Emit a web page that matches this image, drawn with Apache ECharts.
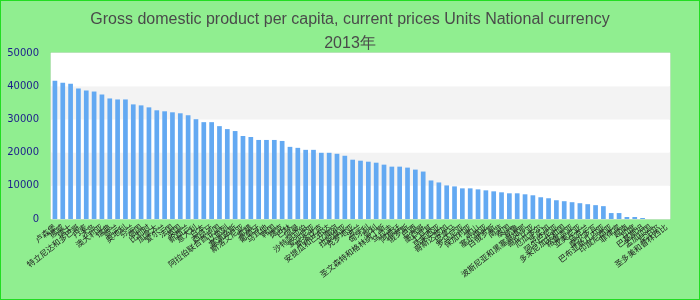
<!DOCTYPE html>
<html>
<head>
<meta charset="utf-8">
<script src="https://cdn.jsdelivr.net/npm/echarts@6/dist/echarts.min.js"></script>
<style>
html,body{margin:0;padding:0;background:#90EE90;}
#main{width:700px;height:300px;box-sizing:border-box;border:1px solid #22dd22;}
</style>
</head>
<body>
<div id="main"></div>
<script>
var titleText = 'Gross domestic product per capita, current prices Units National currency';
var subTitleText = '2013年';
var categories = ['卢森堡','挪威','瑞士','特立尼达和多巴哥','丹麦','冰岛','澳大利亚','瑞典','荷兰','奥地利',
  '芬兰','德国','比利时','加拿大','爱尔兰','法国','英国','新西兰','意大利','日本',
  '西班牙','阿拉伯联合酋长国','以色列','塞浦路斯','斯洛文尼亚','希腊','葡萄牙','马耳他','韩国','捷克',
  '巴林','阿曼','沙特阿拉伯','爱沙尼亚','斯洛伐克','安提瓜和巴布达','立陶宛','拉脱维亚','克罗地亚','波兰',
  '匈牙利','智利','圣文森特和格林纳丁斯','乌拉圭','阿根廷','俄罗斯','巴西','墨西哥','土耳其','马来西亚',
  '哥斯达黎加','巴拿马','罗马尼亚','保加利亚','黑山','塞尔维亚','白俄罗斯','南非','泰国','秘鲁',
  '波斯尼亚和黑塞哥维那','哥伦比亚','厄瓜多尔','牙买加','阿尔巴尼亚','多米尼加共和国','格鲁吉亚','亚美尼亚','乌克兰','摩尔多瓦',
  '巴布亚新几内亚','印度尼西亚','菲律宾','越南','印度','巴基斯坦','孟加拉国','尼泊尔','圣多美和普林西比'];
var values = [41660,41070,40770,39280,38690,38390,37500,36310,36010,36010,
  34520,34220,33630,32740,32440,32140,31840,31250,30060,29170,
  29170,27970,27080,26490,25000,24700,23810,23810,23810,23510,
  21730,21430,20830,20830,19940,19940,19640,19050,17860,17560,
  17260,16960,16370,15770,15770,15480,14880,14290,11610,11010,
  10120,9820,9230,9230,8930,8630,8330,8040,7740,7740,
  7440,7140,6550,6250,5650,5360,5060,4760,4460,4170,
  3870,1790,1790,600,600,300,null,null,null];
var yTicks = {min:0, max:50000, interval:10000};

var chart = echarts.init(document.getElementById('main'), null, {renderer:'canvas'});
chart.setOption({
  backgroundColor:'#90EE90',
  animation:false,
  title:{
    text: titleText + '\n' + subTitleText,
    left:'center', top:2,
    textStyle:{fontFamily:'Liberation Sans', fontSize:16, fontWeight:'normal', color:'#4a4a4a', lineHeight:24}
  },
  grid:{left:50, right:29, top:52, bottom:80, show:true, backgroundColor:'#ffffff', borderColor:'#dddddd', borderWidth:1,
    containLabel:false, outerBoundsMode:'none'},
  xAxis:{
    type:'category', data:categories,
    axisLine:{show:false}, axisTick:{show:false},
    axisLabel:{interval:0, rotate:38, fontSize:8, color:'#222', margin:7, hideOverlap:false, fontFamily:'Noto Sans CJK SC'}
  },
  yAxis:{
    type:'value', min:yTicks.min, max:yTicks.max, interval:yTicks.interval,
    axisLine:{show:false}, axisTick:{show:false},
    axisLabel:{fontSize:10, color:'#1c1c8c', fontFamily:'DejaVu Sans', margin:12, formatter:function(v){return String(v);}},
    splitLine:{show:false},
    splitArea:{show:true, areaStyle:{color:['#ffffff','#f3f3f3']}}
  },
  series:[{type:'bar', data:values, barCategoryGap:'40%', itemStyle:{color:'#63a9f2'}}]
});
</script>
</body>
</html>
